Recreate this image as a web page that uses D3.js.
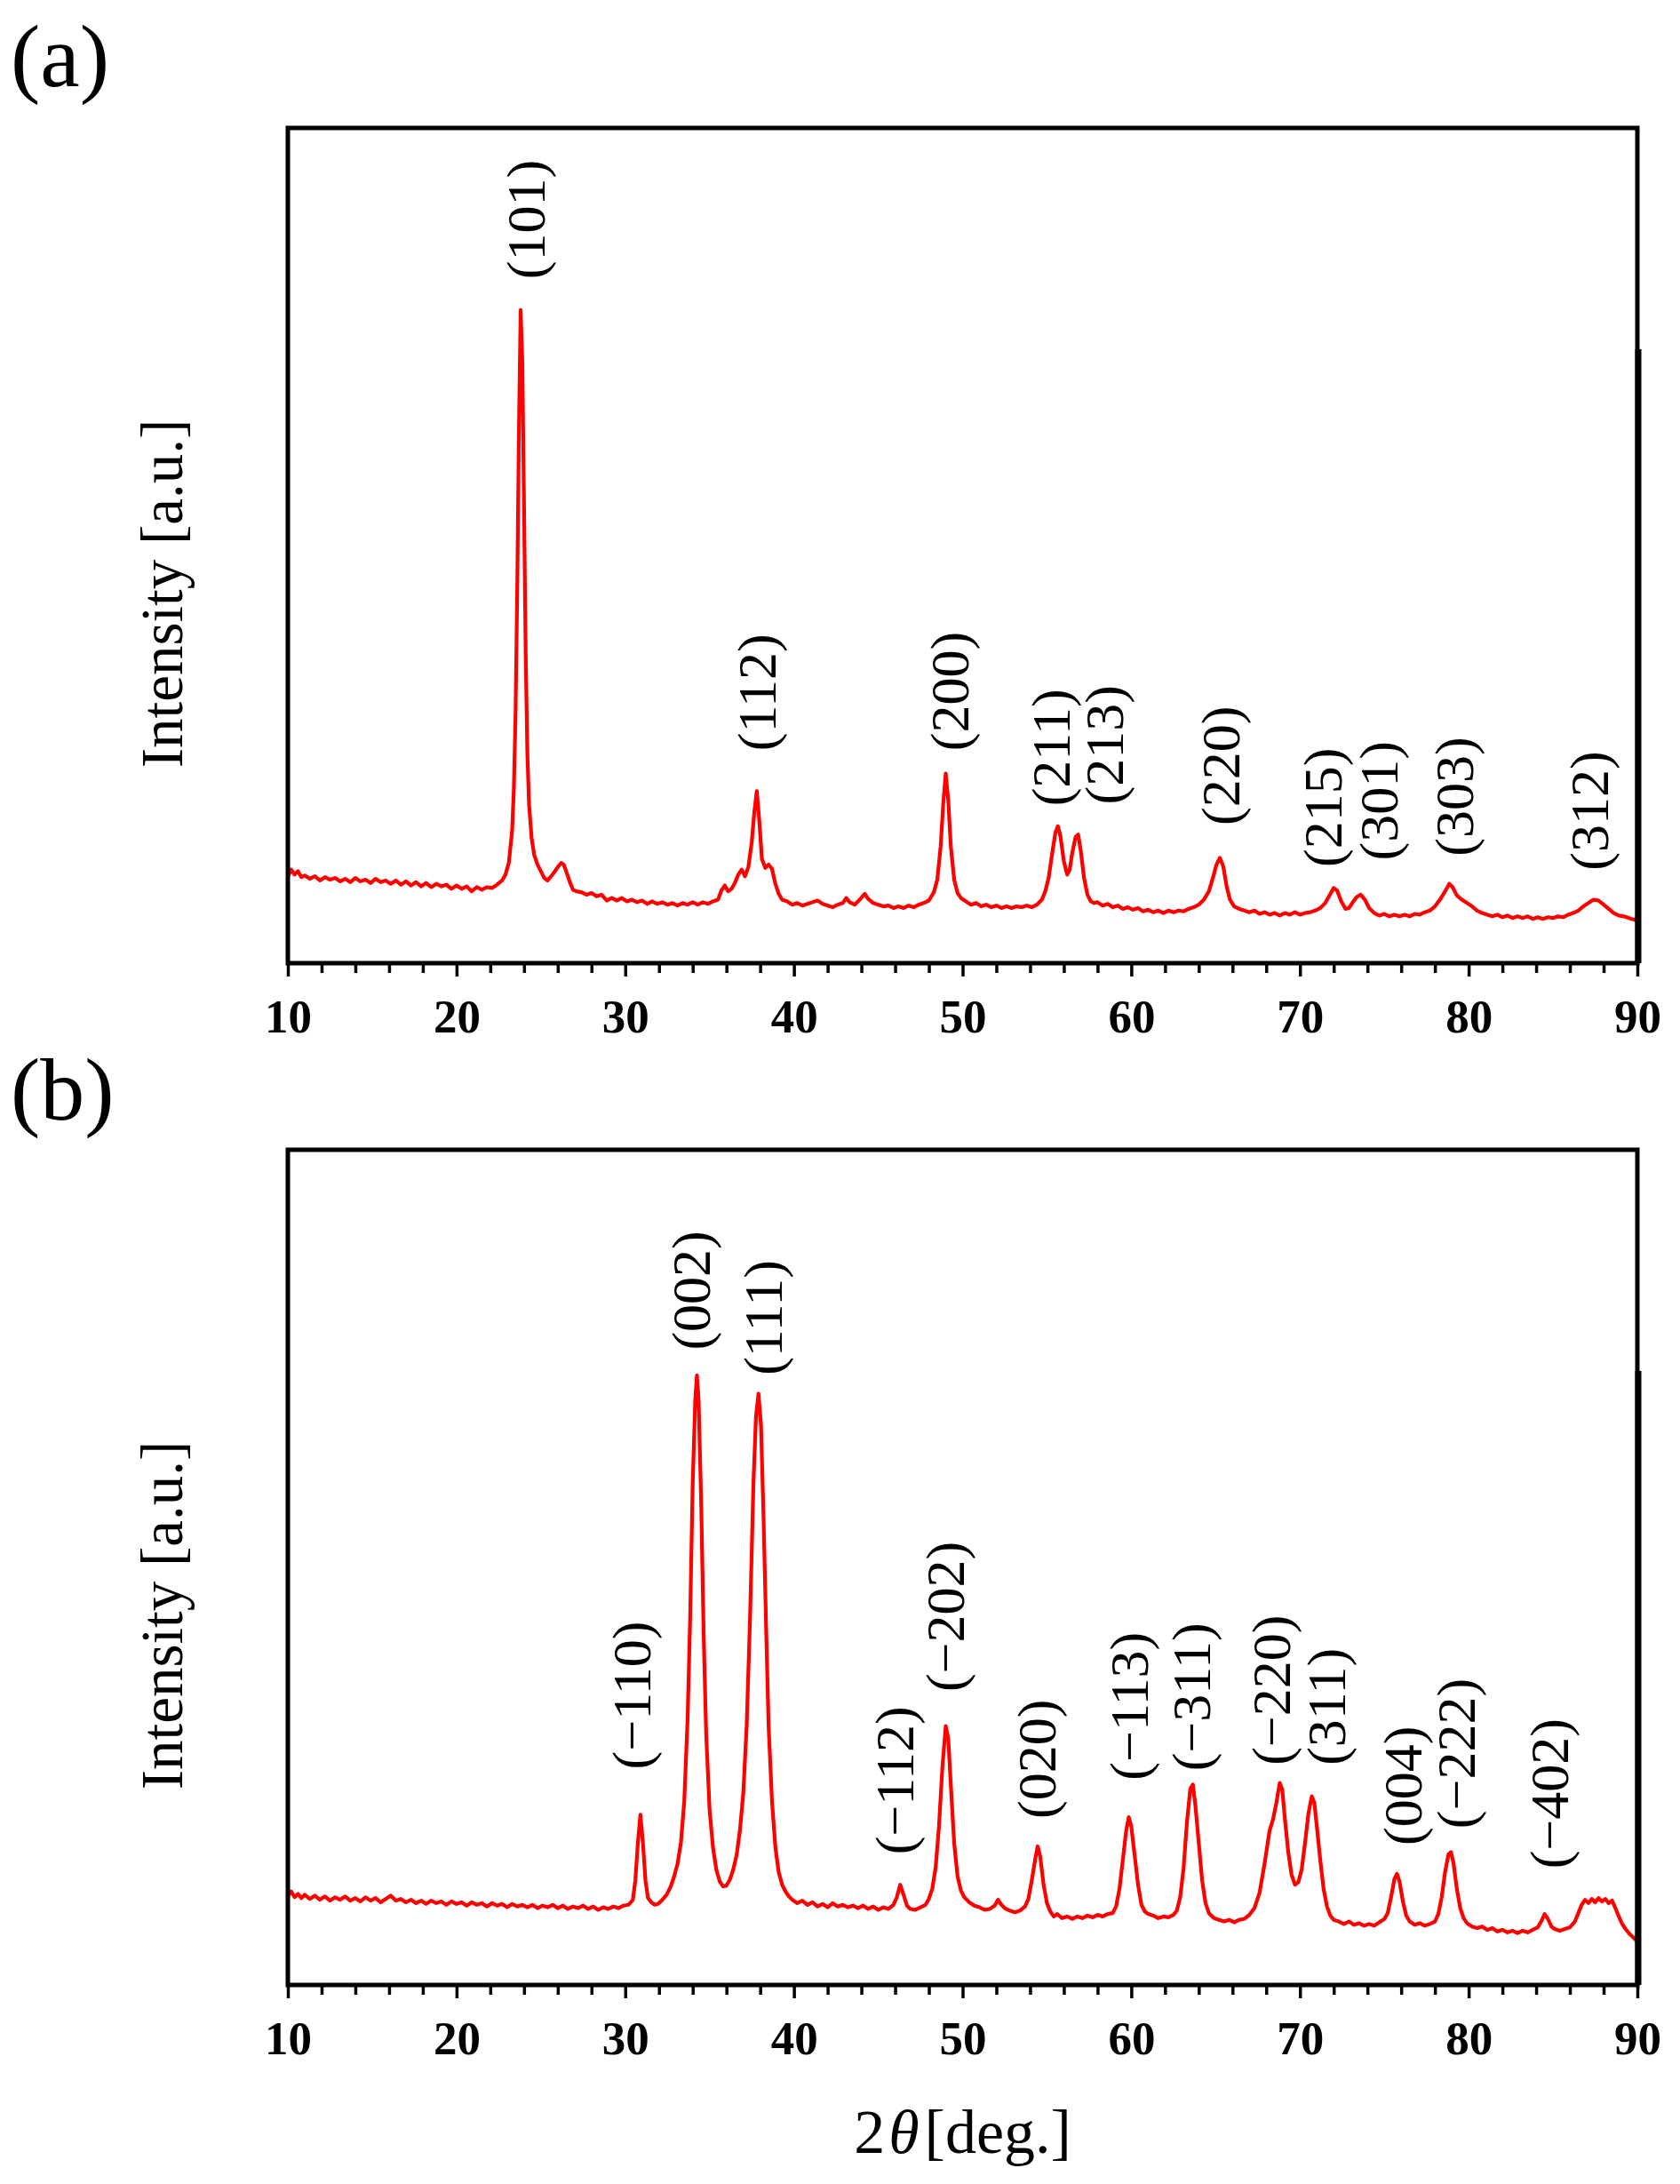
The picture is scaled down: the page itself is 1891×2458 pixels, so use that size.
<!DOCTYPE html>
<html><head><meta charset="utf-8">
<script src="https://cdn.jsdelivr.net/npm/d3@7"></script>
<style>body{margin:0;background:#fff} svg{display:block}</style>
</head><body>
<svg id="c" width="1891" height="2458"></svg>
<script>
// ---------- DATA ----------
const majorTicks = [10,20,30,40,50,60,70,80,90];
const minorTicks = [12,14,16,18,22,24,26,28,32,34,36,38,42,44,46,48,52,54,56,58,62,64,66,68,72,74,76,78,82,84,86,88];

// Panel (a): [2theta, intensity (% of axis height)]
const scanA = [
[10.0,10.4],[10.2,11.2],[10.4,10.6],[10.6,11.0],[10.8,10.3],[11.0,10.5],[11.3,10.1],[11.6,10.4],[11.9,9.9],[12.2,10.3],
[12.5,10.0],[12.8,10.2],[13.1,9.8],[13.4,10.1],[13.7,9.7],[14.0,10.2],[14.3,9.8],[14.6,10.0],[14.9,9.6],[15.2,10.1],
[15.5,9.7],[15.8,9.9],[16.1,9.5],[16.4,9.9],[16.7,9.4],[17.0,9.8],[17.3,9.3],[17.6,9.7],[17.9,9.2],[18.2,9.6],
[18.5,9.1],[18.8,9.5],[19.1,9.2],[19.4,9.4],[19.7,8.9],[20.0,9.3],[20.3,8.9],[20.6,9.2],[20.9,8.6],[21.2,9.1],
[21.5,8.8],[21.8,9.1],[22.1,9.0],[22.4,9.4],[22.7,9.9],[22.9,10.6],[23.1,12.0],[23.3,16],[23.4,21],[23.5,30],
[23.6,45],[23.7,64],[23.8,78.2],[23.9,72],[24.0,55],[24.1,37],[24.2,25],[24.3,19],[24.45,15],[24.6,13],
[24.8,11.8],[25.0,11.0],[25.2,10.2],[25.4,9.9],[25.6,10.4],[25.8,10.9],[26.0,11.5],[26.2,12.0],[26.35,11.8],[26.5,11.0],
[26.7,9.8],[26.9,8.8],[27.1,8.6],[27.4,8.5],[27.7,8.2],[28.0,8.4],[28.3,8.0],[28.6,8.2],[28.9,7.5],[29.2,7.8],
[29.5,7.5],[29.8,7.8],[30.1,7.4],[30.4,7.6],[30.7,7.3],[31.0,7.5],[31.3,7.1],[31.6,7.4],[31.9,7.1],[32.2,7.3],
[32.5,7.0],[32.8,7.2],[33.1,6.9],[33.4,7.2],[33.7,7.0],[34.0,7.3],[34.3,7.0],[34.6,7.3],[34.9,7.1],[35.2,7.4],
[35.5,7.6],[35.7,8.7],[35.9,9.3],[36.1,8.6],[36.3,8.9],[36.5,9.6],[36.7,10.6],[36.9,11.2],[37.1,10.4],[37.3,11.5],
[37.5,14.5],[37.65,18],[37.8,20.6],[37.95,17],[38.1,12.5],[38.3,11.4],[38.5,11.8],[38.7,11.3],[38.9,9.5],[39.1,8.3],
[39.3,7.6],[39.6,7.4],[39.9,7.0],[40.2,7.2],[40.5,6.9],[40.8,7.1],[41.1,7.3],[41.4,7.5],[41.7,7.1],[42.0,6.9],
[42.3,6.7],[42.6,7.0],[42.9,7.2],[43.1,7.8],[43.3,7.3],[43.6,7.0],[43.9,7.6],[44.2,8.3],[44.4,7.7],[44.7,7.2],
[45.0,7.0],[45.3,6.8],[45.6,6.9],[45.9,6.6],[46.2,6.8],[46.5,6.6],[46.8,6.9],[47.1,6.7],[47.4,7.0],[47.7,7.2],
[48.0,7.5],[48.3,8.5],[48.5,10],[48.7,14],[48.85,19],[49.0,22.7],[49.15,19.5],[49.3,14],[49.5,10],[49.7,8.4],
[49.9,7.8],[50.2,7.4],[50.5,7.0],[50.8,7.2],[51.1,6.8],[51.4,7.0],[51.7,6.7],[52.0,6.9],[52.3,6.6],[52.6,6.8],
[52.9,6.6],[53.2,6.8],[53.5,6.7],[53.8,6.9],[54.1,6.7],[54.4,7.0],[54.7,7.6],[54.9,8.6],[55.1,10.2],[55.3,13],
[55.5,15.6],[55.65,16.4],[55.8,15.2],[56.0,12.2],[56.2,10.6],[56.35,11.2],[56.5,13.2],[56.7,15.1],[56.85,15.4],[57.0,13.5],
[57.2,10.2],[57.4,8.2],[57.6,7.4],[57.8,7.2],[58.0,7.3],[58.3,6.9],[58.6,7.1],[58.9,6.7],[59.2,6.9],[59.5,6.5],
[59.8,6.7],[60.1,6.4],[60.4,6.6],[60.7,6.2],[61.0,6.4],[61.3,6.1],[61.6,6.3],[61.9,6.0],[62.2,6.3],[62.5,6.1],
[62.8,6.3],[63.1,6.2],[63.4,6.5],[63.7,6.7],[64.0,7.0],[64.3,7.6],[64.6,8.6],[64.85,10.3],[65.05,11.8],[65.25,12.6],
[65.45,11.6],[65.65,9.2],[65.85,7.6],[66.1,6.8],[66.4,6.5],[66.7,6.3],[67.0,6.1],[67.3,6.3],[67.6,5.9],[67.9,6.1],
[68.2,5.8],[68.5,6.0],[68.8,5.7],[69.1,6.0],[69.4,5.8],[69.7,6.1],[70.0,5.8],[70.3,6.0],[70.6,6.1],[70.9,6.3],
[71.2,6.6],[71.5,7.2],[71.8,8.3],[72.0,9.0],[72.2,8.7],[72.45,7.4],[72.7,6.5],[72.9,6.6],[73.1,7.2],[73.35,7.9],
[73.6,8.2],[73.85,7.6],[74.1,6.6],[74.4,6.0],[74.7,5.7],[75.0,5.9],[75.3,5.6],[75.6,5.8],[75.9,5.6],[76.2,5.8],
[76.5,5.6],[76.8,5.9],[77.1,5.8],[77.4,6.1],[77.7,6.3],[78.0,6.8],[78.3,7.6],[78.6,8.6],[78.85,9.5],[79.05,9.1],
[79.3,8.1],[79.6,7.6],[79.9,7.2],[80.2,6.8],[80.5,6.3],[80.8,6.0],[81.1,5.8],[81.4,5.6],[81.7,5.8],[82.0,5.5],
[82.3,5.7],[82.6,5.4],[82.9,5.6],[83.2,5.4],[83.5,5.6],[83.8,5.3],[84.1,5.5],[84.4,5.3],[84.7,5.5],[85.0,5.4],
[85.3,5.6],[85.6,5.5],[85.9,5.8],[86.2,6.0],[86.5,6.3],[86.8,6.8],[87.1,7.2],[87.4,7.6],[87.7,7.5],[88.0,7.0],
[88.3,6.5],[88.6,6.0],[88.9,5.7],[89.2,5.6],[89.5,5.4],[89.8,5.2],[90.0,5.3]
];

// Panel (b)
const scanB = [
[10.0,10.6],[10.2,11.2],[10.4,10.5],[10.6,10.9],[10.8,10.4],[11.0,10.8],[11.3,10.3],[11.6,10.7],[11.9,10.2],[12.2,10.6],
[12.5,10.1],[12.8,10.5],[13.1,10.2],[13.4,10.6],[13.7,10.1],[14.0,10.4],[14.3,10.0],[14.6,10.5],[14.9,10.1],[15.2,10.4],
[15.5,9.9],[15.8,10.3],[16.1,10.7],[16.4,10.1],[16.7,10.3],[17.0,9.9],[17.3,10.2],[17.6,9.8],[17.9,10.1],[18.2,9.7],
[18.5,10.1],[18.8,9.8],[19.1,10.0],[19.4,9.6],[19.7,10.0],[20.0,9.7],[20.3,9.9],[20.6,9.5],[20.9,9.9],[21.2,9.6],
[21.5,9.8],[21.8,9.4],[22.1,9.8],[22.4,9.5],[22.7,9.7],[23.0,9.3],[23.3,9.7],[23.6,9.4],[23.9,9.6],[24.2,9.3],
[24.5,9.6],[24.8,9.2],[25.1,9.5],[25.4,9.3],[25.7,9.6],[26.0,9.2],[26.3,9.5],[26.6,9.1],[26.9,9.4],[27.2,9.2],
[27.5,9.5],[27.8,9.1],[28.1,9.4],[28.4,9.0],[28.7,9.3],[29.0,9.1],[29.3,9.4],[29.6,9.2],[29.9,9.5],[30.2,9.6],
[30.45,10.2],[30.6,12.5],[30.75,17],[30.9,20.4],[31.05,17],[31.2,12.5],[31.35,10.4],[31.55,9.9],[31.75,9.6],[31.95,9.7],
[32.2,10.2],[32.45,10.8],[32.7,11.8],[32.9,13],[33.1,14.5],[33.3,17],[33.5,22],[33.7,32],[33.85,44],[34.0,60],
[34.15,70],[34.25,73.0],[34.35,70],[34.5,58],[34.65,42],[34.8,30],[35.0,21],[35.2,16.5],[35.4,13.8],[35.6,12.4],
[35.8,11.8],[36.0,11.9],[36.2,12.6],[36.4,13.8],[36.6,15.5],[36.8,18.5],[37.0,23],[37.2,31],[37.4,44],[37.6,60],
[37.75,68],[37.9,70.8],[38.05,67],[38.2,56],[38.35,43],[38.5,31],[38.7,22],[38.9,16.5],[39.1,13.5],[39.3,12.0],
[39.5,11.2],[39.7,10.6],[39.9,10.2],[40.2,9.8],[40.5,10.1],[40.8,9.6],[41.1,9.9],[41.4,9.4],[41.7,9.7],[42.0,9.3],
[42.3,9.8],[42.6,9.4],[42.9,9.6],[43.2,9.3],[43.5,9.5],[43.8,9.2],[44.1,9.5],[44.4,9.1],[44.7,9.4],[45.0,9.0],
[45.3,9.3],[45.6,9.1],[45.9,9.6],[46.1,10.5],[46.3,12.0],[46.5,10.8],[46.7,9.5],[46.9,9.1],[47.2,9.0],[47.5,9.3],
[47.8,9.6],[48.0,10.3],[48.2,11.5],[48.4,14],[48.6,19],[48.8,26],[49.0,31.0],[49.15,29.5],[49.3,24],[49.5,17],
[49.7,13],[49.9,11.3],[50.1,10.5],[50.4,9.9],[50.7,9.5],[51.0,9.3],[51.3,9.0],[51.6,9.1],[51.9,9.5],[52.1,10.2],
[52.3,9.6],[52.5,9.2],[52.8,8.9],[53.1,8.7],[53.4,8.9],[53.7,9.4],[53.9,10.3],[54.1,12.5],[54.3,15],[54.45,16.6],
[54.6,15.4],[54.8,12.0],[55.0,9.8],[55.2,8.8],[55.4,8.2],[55.6,8.5],[55.9,8.0],[56.2,8.2],[56.5,7.9],[56.8,8.2],
[57.1,8.0],[57.4,8.3],[57.7,8.1],[58.0,8.4],[58.3,8.2],[58.6,8.5],[58.9,8.6],[59.1,9.4],[59.3,11.5],[59.5,15],
[59.7,18.5],[59.85,20.1],[60.0,19.0],[60.2,15.5],[60.4,12],[60.6,9.6],[60.8,8.8],[61.0,8.5],[61.3,8.3],[61.6,8.0],
[61.9,8.2],[62.2,8.1],[62.5,8.4],[62.7,8.9],[62.9,10.5],[63.1,14],[63.3,19.5],[63.5,23.5],[63.65,24.0],[63.8,21.5],
[64.0,17],[64.2,12.5],[64.4,9.8],[64.6,8.6],[64.9,8.0],[65.2,7.8],[65.5,7.6],[65.8,7.8],[66.1,7.5],[66.4,7.8],
[66.7,7.9],[67.0,8.4],[67.3,9.2],[67.6,11],[67.9,14.5],[68.2,18.5],[68.4,19.8],[68.6,21.8],[68.8,24.2],[68.95,23.4],
[69.1,20],[69.3,16],[69.5,13.2],[69.7,12.0],[69.9,12.3],[70.1,13.8],[70.3,17],[70.5,20.5],[70.7,22.6],[70.85,21.8],
[71.0,19],[71.2,15],[71.4,11.5],[71.6,9.4],[71.8,8.3],[72.0,7.8],[72.3,7.6],[72.6,7.3],[72.9,7.6],[73.2,7.2],
[73.5,7.4],[73.8,7.1],[74.1,7.3],[74.4,7.1],[74.7,7.5],[75.0,7.9],[75.2,8.6],[75.4,10.5],[75.6,12.7],[75.75,13.3],
[75.9,12.4],[76.1,10],[76.3,8.3],[76.5,7.6],[76.8,7.2],[77.1,7.4],[77.4,7.1],[77.7,7.3],[78.0,7.6],[78.2,8.5],
[78.4,10.5],[78.6,13.5],[78.8,15.6],[78.95,15.9],[79.1,14.6],[79.3,11.5],[79.5,9.2],[79.7,8.0],[79.9,7.4],[80.2,7.0],
[80.5,6.8],[80.8,7.0],[81.1,6.6],[81.4,6.8],[81.7,6.4],[82.0,6.6],[82.3,6.3],[82.6,6.5],[82.9,6.2],[83.2,6.5],
[83.5,6.3],[83.8,6.6],[84.1,6.9],[84.3,7.6],[84.5,8.5],[84.7,7.9],[84.9,7.0],[85.1,6.7],[85.4,6.5],[85.7,6.7],
[86.0,6.9],[86.3,7.6],[86.5,8.6],[86.7,9.6],[86.9,10.2],[87.1,9.8],[87.3,10.3],[87.5,9.9],[87.7,10.4],[87.9,10.0],
[88.1,10.3],[88.3,9.8],[88.5,10.1],[88.7,9.2],[88.9,8.2],[89.1,7.3],[89.3,6.7],[89.5,6.2],[89.7,5.8],[89.9,5.4],[90.0,5.2]
];

// Peak labels: [text, 2theta of label centre, intensity at label start]
const labelsA = [
["(101)",24.35,81.9],["(112)",38.05,25.4],["(200)",49.45,25.4],["(211)",55.45,18.8],["(213)",58.65,19.0],
["(220)",65.5,16.5],["(215)",71.6,11.5],["(301)",74.9,12.3],["(303)",79.35,12.8],["(312)",87.4,11.1]
];
const labelsB = [
["(\u2212110)",30.6,25.8],["(002)",34.15,76.0],["(111)",38.4,73.0],["(\u2212112)",46.2,15.6],["(\u2212202)",49.2,35.1],
["(020)",54.6,19.9],["(\u2212113)",60.1,24.5],["(\u2212311)",63.8,25.6],["(\u2212220)",68.55,26.3],["(311)",71.8,26.3],
["(004)",76.3,16.7],["(\u2212222)",79.5,18.7],["(\u2212402)",85.0,13.9]
];
const panelNames = ["(a)","(b)"];
const yTitle = "Intensity [a.u.]";

// ---------- DRAW ----------
const svg = d3.select("#c");
const FONT = "'Liberation Serif','Times New Roman',Times,serif";
const left = 324, right = 1843;

function panel(top, bottom, data, labels, name, nameBaseline) {
  const g = svg.append("g");
  const x = d3.scaleLinear().domain([10, 90]).range([left, right]);
  const y = d3.scaleLinear().domain([0, 100]).range([bottom, top]);

  // curve
  g.append("path").datum(data)
    .attr("fill", "none").attr("stroke", "#ff0000").attr("stroke-width", 4.2)
    .attr("stroke-linejoin", "round")
    .attr("d", d3.line().x(d => x(d[0])).y(d => y(d[1])));

  // minor ticks
  const minor = g.append("g").attr("transform", `translate(0,${bottom})`)
    .call(d3.axisBottom(x).tickValues(minorTicks).tickSize(11).tickFormat(""));
  minor.select(".domain").remove();
  minor.selectAll("line").attr("stroke", "#000").attr("stroke-width", 3.5);

  const major = g.append("g").attr("transform", `translate(0,${bottom})`)
    .call(d3.axisBottom(x).tickValues(majorTicks).tickSize(15).tickFormat(d3.format("d")));
  major.select(".domain").remove();
  major.selectAll("line").attr("stroke", "#000").attr("stroke-width", 3.5);
  major.selectAll("text").attr("y", 78).attr("dy", 0)
    .attr("font-family", FONT).attr("font-weight", "bold").attr("font-size", 53).attr("fill", "#000");

  // frame
  g.append("rect").attr("x", left).attr("y", top)
    .attr("width", right - left).attr("height", bottom - top)
    .attr("fill", "none").attr("stroke", "#000").attr("stroke-width", 5);
  // thicker lower part of the right border (as in the source figure)
  g.append("line").attr("x1", right + 1).attr("x2", right + 1)
    .attr("y1", y(73.5)).attr("y2", bottom)
    .attr("stroke", "#000").attr("stroke-width", 7);

  // peak labels
  g.selectAll("text.pk").data(labels).enter().append("text")
    .attr("class", "pk")
    .attr("transform", d => `translate(${x(d[1])},${y(d[2])}) rotate(-90)`)
    .attr("dy", "0.27em")
    .attr("font-family", FONT).attr("font-size", 62).attr("fill", "#000")
    .text(d => d[0]);

  // y title
  g.append("text")
    .attr("transform", `translate(205,${(top + bottom) / 2 + 54}) rotate(-90)`)
    .attr("text-anchor", "middle")
    .attr("font-family", FONT).attr("font-size", 67).attr("fill", "#000")
    .text(yTitle);

  // panel letter
  g.append("text").attr("x", 12).attr("y", nameBaseline)
    .attr("font-family", FONT).attr("font-size", 100).attr("fill", "#000")
    .text(name);
  return x;
}

panel(144, 1084, scanA, labelsA, panelNames[0], 97);
const xb = panel(1294, 2234, scanB, labelsB, panelNames[1], 1260);

// x title
const xt = svg.append("text")
  .attr("x", xb(50)).attr("y", 2423)
  .attr("text-anchor", "middle")
  .attr("font-family", FONT).attr("font-size", 70).attr("fill", "#000");
xt.append("tspan").text("2");
xt.append("tspan").attr("font-style", "italic").attr("dx", 4).text("\u03b8");
xt.append("tspan").attr("dx", 6).text("[deg.]");
</script>
</body></html>
